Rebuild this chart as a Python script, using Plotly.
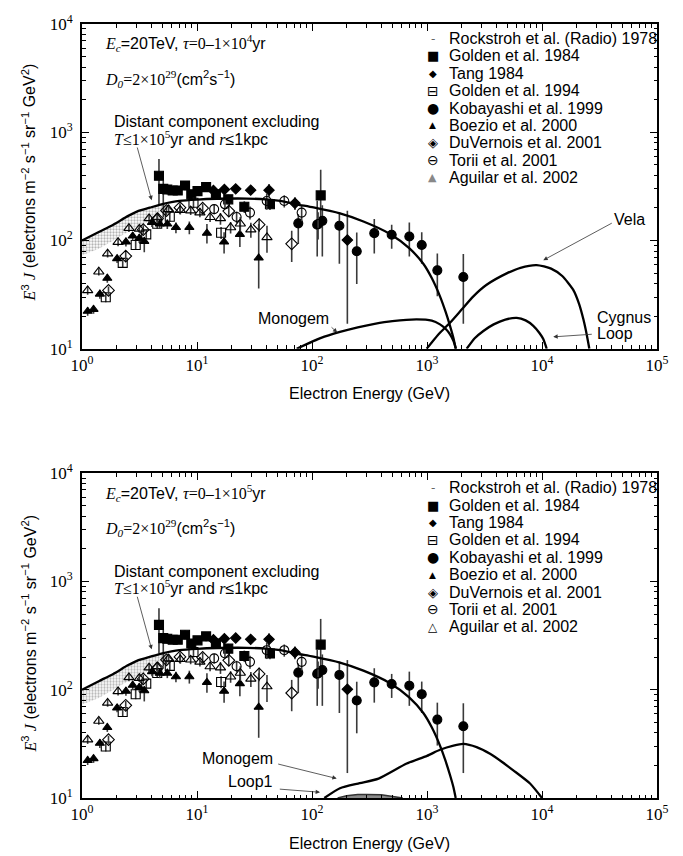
import plotly.graph_objects as go

# ---------------- tick labels ----------------
x_tick_vals = [1, 10, 100, 1000, 10000, 100000]
x_tick_text = ["10<sup>0</sup>", "10<sup>1</sup>", "10<sup>2</sup>", "10<sup>3</sup>", "10<sup>4</sup>", "10<sup>5</sup>"]
y_tick_vals = [10, 100, 1000, 10000]
y_tick_text = ["10<sup>1</sup>", "10<sup>2</sup>", "10<sup>3</sup>", "10<sup>4</sup>"]

series_names = ["Rockstroh et al. (Radio) 1978", "Golden et al. 1984", "Tang 1984",
                "Golden et al. 1994", "Kobayashi et al. 1999", "Boezio et al. 2000",
                "DuVernois et al. 2001", "Torii et al. 2001", "Aguilar et al. 2002"]

# ---------------- Rockstroh radio band ----------------
rock_E = [1, 1.4, 1.87, 2.5, 3.0, 4.0, 5.1, 6.0]
rock_low = [73, 84, 100, 120, 132, 155, 185, 226]
rock_high = [100, 120, 140, 168, 185, 203, 218, 226]

# ---------------- measurements ----------------
g84_E = [4.67, 5.09, 5.52, 6.15, 6.80, 7.87, 8.92, 10.1, 12.0, 14.6, 18.7, 25.8, 43.1, 119]
g84_Y = [397, 300, 296, 290, 290, 322, 267, 286, 311, 267, 240, 205, 216, 261]
g84_up = [170, 60, 30, 25, 25, 30, 25, 25, 30, 25, 25, 25, 25, 190]
g84_dn = [181, 137, 30, 25, 25, 30, 25, 25, 30, 25, 25, 25, 25, 100]

tang_E = [13.9, 17.3, 21.7, 29.3, 42.3, 71.1, 203]
tang_Y = [290, 296, 300, 292, 292, 221, 101]
tang_up = [25, 25, 25, 25, 40, 30, 87]
tang_dn = [25, 25, 25, 25, 40, 30, 84]

g94_E = [1.61, 2.26, 2.93, 3.62, 4.51, 5.80, 9.32, 16.2]
g94_Y = [29.9, 62.2, 90.8, 114, 143, 166, 223, 118]
g94_err = [3, 6, 9, 11, 14, 17, 25, 15]

koba_E = [76, 111, 123, 173, 245, 348, 493, 702, 900, 1230, 2070]
koba_Y = [144, 140, 152, 137, 79.6, 117, 113, 109, 91, 53, 46]
koba_up = [31, 93, 60, 45, 39, 41, 27, 38, 28, 23, 29]
koba_dn = [51, 69, 81, 76, 40, 41, 29, 38, 30, 22.5, 29]

boez_E = [1.12, 1.26, 1.43, 1.66, 2.02, 2.41, 2.76, 3.15, 3.48, 4.06, 4.74, 5.52, 6.56, 8.58, 12.2, 17.2, 23.6, 34.4]
boez_Y = [22.2, 23.1, 32, 44.8, 68, 97, 110, 105, 98, 147, 142, 142, 132, 132, 117, 97, 114, 69]
boez_up = [2, 2, 3, 4, 6, 9, 10, 10, 10, 14, 14, 14, 15, 18, 25, 22, 40, 73]
boez_dn = [2, 2, 3, 4, 6, 9, 10, 10, 20, 14, 14, 14, 15, 18, 23, 21, 27, 33]

duv_E = [1.70, 2.40, 3.41, 4.54, 5.43, 7.11, 11.2, 18.9, 34.7, 66.6]
duv_Y = [34.6, 71.8, 126, 159, 189, 201, 199, 187, 140, 93.3]
duv_err = [3, 7, 12, 15, 18, 20, 20, 20, 20, 30]

torii_E = [14.1, 17.5, 22.1, 28.9, 40.4, 57.4, 81.3, 113]
torii_Y = [195, 216, 165, 181, 232, 232, 181, 142]
torii_err = [20, 22, 20, 25, 40, 30, 30, 40]

agu_E = [1.12, 1.40, 1.67, 2.06, 2.56, 3.15, 3.83, 4.49, 5.67, 7.16, 8.81, 10.6, 13.0, 16.0, 19.6, 23.8, 29.4, 40.6]
agu_Y = [34.6, 51.5, 75.7, 96.6, 130, 128, 160, 163, 194, 191, 189, 181, 164, 160, 132, 143, 126, 107]
agu_err = [3, 4, 6, 8, 10, 10, 13, 14, 17, 17, 17, 17, 16, 20, 16, 22, 20, 30]

# ---------------- model curves ----------------
dist_E = [1, 1.4, 1.87, 2.5, 3.0, 4.0, 5.1, 6.0, 7.0, 10, 15, 27, 40, 53, 75, 103, 175, 280, 477, 700, 929, 1100, 1297, 1450, 1585, 1700, 1776]
dist_Y = [100, 120, 140, 168, 185, 203, 218, 226, 232, 239, 243, 244, 240, 232, 215, 202, 178, 150, 115, 85, 61, 45, 30.5, 22, 16.3, 12.5, 10]

mono4_E = [73.6, 120, 175, 250, 350, 500, 813, 1100, 1297, 1450, 1585, 1700, 1786]
mono4_Y = [10, 12.6, 14.3, 15.8, 17.0, 18.0, 18.7, 18.2, 16.8, 15.3, 13.6, 11.8, 10]

vela_E = [993, 1250, 1585, 2000, 2530, 3300, 4930, 6500, 8980, 12000, 15000, 18700, 21000, 22900, 24500, 25800]
vela_Y = [10, 13.5, 17.4, 23, 30.5, 39, 49.7, 56, 59.3, 55, 47, 35, 26, 18.7, 13.5, 10]

cyg_E = [2213, 2600, 3090, 3800, 4800, 6030, 7200, 8400, 9500, 10260, 10990]
cyg_Y = [10, 12.5, 14.6, 16.8, 18.6, 19.3, 18.3, 16.3, 14, 12.3, 10]

mono5_E = [128, 175, 260, 379, 666, 1000, 1297, 1700, 2070, 2700, 3533, 4500, 5630, 7870, 10000]
mono5_Y = [10, 12.3, 13.7, 15.1, 20.8, 24.5, 27.9, 30.5, 31.6, 29.5, 25.6, 21.5, 18, 13.6, 10]

loop1_E = [167, 200, 250, 300, 400, 500, 616]
loop1_Y = [10, 10.5, 10.75, 10.8, 10.7, 10.4, 10]

SANS = "Liberation Sans"
SERIF = "Liberation Serif"
ERRC = "#3a3a3a"


def sf(t):
    return f'<span style="font-family:{SERIF}">{t}</span>'


def si(t):
    return f'<span style="font-family:{SERIF}"><i>{t}</i></span>'


fig = go.Figure()


def err(up, dn=None):
    return dict(type="data", symmetric=dn is None, array=up, arrayminus=dn,
                color=ERRC, thickness=1.6, width=0)


def add_panel(xa, ya, curves, loop=None):
    common = dict(xaxis=xa, yaxis=ya, showlegend=False, hoverinfo="skip")
    fig.add_trace(go.Scatter(x=rock_E, y=rock_low, mode="lines",
                             line=dict(width=0, color="rgba(0,0,0,0)"), **common))
    fig.add_trace(go.Scatter(x=rock_E, y=rock_high, mode="lines", name=series_names[0],
                             line=dict(width=0, color="rgba(0,0,0,0)"), fill="tonexty",
                             fillcolor="white",
                             fillpattern=dict(shape=".", fgcolor="#6a6a6a", bgcolor="white",
                                              size=3, solidity=0.45), **common))
    pts = [
        (g84_E, g84_Y, err(g84_up, g84_dn), "square", 9, series_names[1]),
        (tang_E, tang_Y, err(tang_up, tang_dn), "diamond", 8, series_names[2]),
        (g94_E, g94_Y, err(g94_err), "square-open", 9, series_names[3]),
        (koba_E, koba_Y, err(koba_up, koba_dn), "circle", 9, series_names[4]),
        (boez_E, boez_Y, err(boez_up, boez_dn), "triangle-up", 8, series_names[5]),
        (duv_E, duv_Y, err(duv_err), "diamond-open", 9, series_names[6]),
        (torii_E, torii_Y, err(torii_err), "circle-open", 9, series_names[7]),
        (agu_E, agu_Y, err(agu_err), "triangle-up-open", 9, series_names[8]),
    ]
    for ex, ey, eb, sym, sz, nm in pts:
        fig.add_trace(go.Scatter(x=ex, y=ey, mode="markers", name=nm, error_y=eb,
                                 marker=dict(symbol=sym, size=sz, color="black",
                                             line=dict(color="black", width=1.1)),
                                 **common))
    fig.add_trace(go.Scatter(x=dist_E, y=dist_Y, mode="lines",
                             line=dict(color="black", width=2.3, shape="spline", smoothing=0.6),
                             **common))
    for cx, cy in curves:
        fig.add_trace(go.Scatter(x=cx, y=cy, mode="lines",
                                 line=dict(color="black", width=2.3, shape="spline", smoothing=0.6),
                                 **common))
    if loop is not None:
        fig.add_trace(go.Scatter(x=loop[0], y=loop[1], mode="lines", fill="toself",
                                 fillcolor="#8a8a8a",
                                 line=dict(color="#333333", width=1.5), **common))


add_panel("x", "y", [(mono4_E, mono4_Y), (vela_E, vela_Y), (cyg_E, cyg_Y)])
add_panel("x2", "y2", [(mono5_E, mono5_Y)], loop=(loop1_E, loop1_Y))

axis_common = dict(
    type="log", showline=True, linecolor="black", linewidth=2, mirror="ticks",
    ticks="inside", ticklen=7, tickwidth=1.2, tickcolor="black", showgrid=False,
    zeroline=False, tickfont=dict(family=SERIF, size=17, color="black"),
    minor=dict(ticks="inside", ticklen=3.5, tickwidth=1, tickcolor="black",
               showgrid=False, dtick="D1"),
)

top_dom = [0.5804, 1.0]
bot_dom = [0.0, 0.4196]

fig.update_layout(
    width=683, height=856,
    margin=dict(l=82, r=26, t=14, b=58),
    paper_bgcolor="white", plot_bgcolor="white",
    font=dict(family=SANS, size=16, color="black"),
    showlegend=False,
    xaxis=dict(axis_common, domain=[0, 1], anchor="y", range=[0, 5],
               tickmode="array", tickvals=x_tick_vals, ticktext=x_tick_text),
    yaxis=dict(axis_common, domain=top_dom, anchor="x", range=[1, 4],
               tickmode="array", tickvals=y_tick_vals, ticktext=y_tick_text,
               ticklabelstandoff=4),
    xaxis2=dict(axis_common, domain=[0, 1], anchor="y2", range=[0, 5],
                tickmode="array", tickvals=x_tick_vals, ticktext=x_tick_text),
    yaxis2=dict(axis_common, domain=bot_dom, anchor="x2", range=[1, 4],
                tickmode="array", tickvals=y_tick_vals, ticktext=y_tick_text,
                ticklabelstandoff=4),
)

ann = []


def txt(xr, yr, lx, ly, text, xanchor="left", size=16, color="black", family=SANS):
    ann.append(dict(xref=xr, yref=yr, x=lx, y=ly, text=text, showarrow=False,
                    xanchor=xanchor, yanchor="middle",
                    font=dict(family=family, size=size, color=color)))


def arrow(xr, yr, tip, tail):
    ann.append(dict(xref=xr, yref=yr, axref=xr, ayref=yr, x=tip[0], y=tip[1],
                    ax=tail[0], ay=tail[1], text="", showarrow=True, arrowhead=2,
                    arrowsize=1.1, arrowwidth=0.8, arrowcolor="#333333"))


yt_label = (si("E") + "<sup>3</sup> " + si("J") +
            " (electrons m<sup>−2</sup> s<sup>−1</sup> sr<sup>−1</sup> GeV<sup>2</sup>)")

legend_glyphs_top = [("‐", 12, "#666666"), ("■", 13, "black"), ("◆", 10, "black"),
                     ("⊟", 14, "black"), ("●", 14, "black"), ("▲", 9, "black"),
                     ("◈", 13, "black"), ("⊖", 14, "black"), ("▲", 11, "#888888")]
legend_glyphs_bot = legend_glyphs_top[:8] + [("△", 12, "black")]

for (xr, yr, dom, tau, glyphs, extra) in [
        ("x", "y", top_dom, "4", legend_glyphs_top, "top"),
        ("x2", "y2", bot_dom, "5", legend_glyphs_bot, "bot")]:
    txt(xr, yr, 0.183, 3.82,
        si("E<sub>c</sub>") + "=20TeV, " + si("τ") + sf("=0–1×10<sup>" + tau + "</sup>") + "yr")
    txt(xr, yr, 0.183, 3.495,
        si("D<sub>0</sub>") + sf("=2×10<sup>29</sup>") + "(cm<sup>2</sup>s<sup>−1</sup>)")
    txt(xr, yr, 0.261, 3.095, "Distant component excluding")
    txt(xr, yr, 0.261, 2.946,
        si("T") + sf("≤1×10<sup>5</sup>") + "yr and " + si("r") + "≤1kpc")
    arrow(xr, yr, (0.606, 2.373), (0.477, 2.873))
    # legend
    for i, (nm, (g, gs, gc)) in enumerate(zip(series_names, glyphs)):
        ly = 4 - (14.8 + 17.6 * i) / 109.7
        txt(xr, yr, 3.052, ly, g, xanchor="center", size=gs, color=gc, family="DejaVu Sans")
        txt(xr, yr, 3.174, ly, nm)
    # axis titles
    ann.append(dict(xref="paper", yref="paper", x=0.5, y=dom[0], yshift=-45,
                    text="Electron Energy (GeV)", showarrow=False, xanchor="center",
                    yanchor="middle", font=dict(family=SANS, size=16)))
    ann.append(dict(xref="paper", yref="paper", x=0, xshift=-53,
                    y=(dom[0] + dom[1]) / 2, yshift=4 if extra == "top" else 2,
                    text=yt_label, textangle=-90, showarrow=False, xanchor="center",
                    yanchor="middle", font=dict(family=SANS, size=16)))

# top panel source labels
txt("x", "y", 1.843, 1.284, "Monogem", xanchor="center")
arrow("x", "y", (2.22, 1.150), (2.157, 1.211))
txt("x", "y", 4.765, 2.198, "Vela", xanchor="center")
arrow("x", "y", (4.011, 1.818), (4.62, 2.168))
txt("x", "y", 4.461, 1.286, "Cygnus")
txt("x", "y", 4.461, 1.138, "Loop")
arrow("x", "y", (4.098, 1.110), (4.446, 1.135))

# bottom panel source labels
txt("x2", "y2", 1.348, 1.363, "Monogem", xanchor="center")
arrow("x2", "y2", (2.215, 1.180), (1.693, 1.317))
txt("x2", "y2", 1.465, 1.150, "Loop1", xanchor="center")
arrow("x2", "y2", (2.070, 1.053), (1.707, 1.083))

fig.update_layout(annotations=ann)
fig.write_html("out.html", config={"displayModeBar": False},
               post_script="document.body.style.margin='0';document.body.style.overflow='hidden';")
